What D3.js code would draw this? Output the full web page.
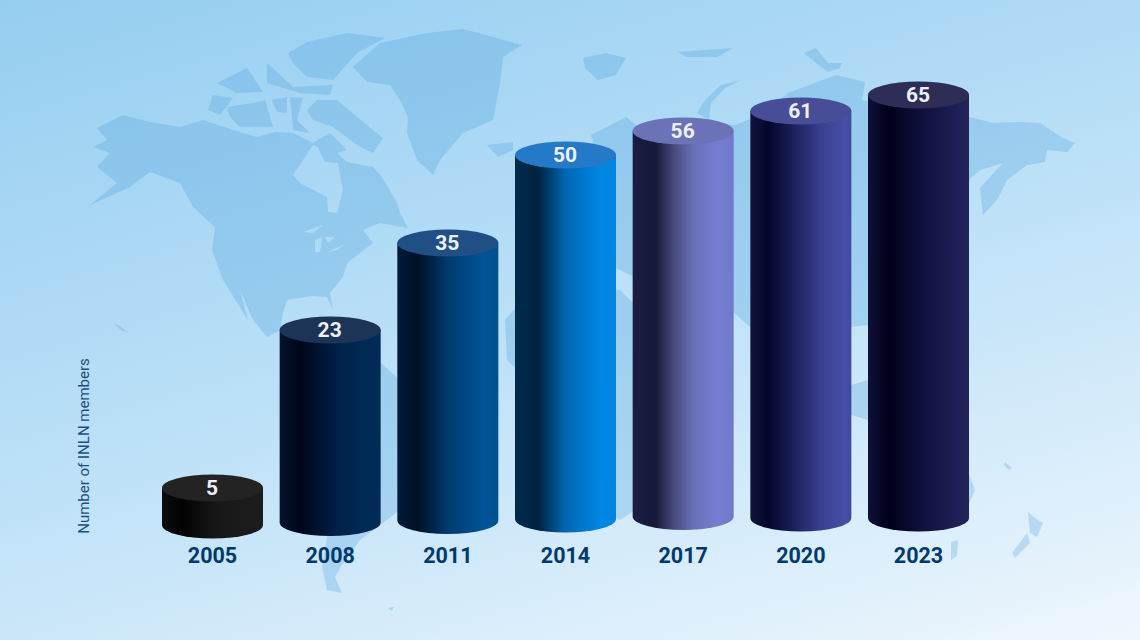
<!DOCTYPE html>
<html><head><meta charset="utf-8">
<script src="https://cdn.jsdelivr.net/npm/d3@7/dist/d3.min.js"></script>
<style>html,body{margin:0;padding:0;background:#fff}svg{display:block}</style>
</head><body><svg id="c" width="1140" height="640"></svg>
<script>
const years = ["2005","2008","2011","2014","2017","2020","2023"];
const members = [5,23,35,50,56,61,65];
const axisTitle = "Number of INLN members";
const topColors = ["#232323","#1b3457","#1f4f85","#2479c8","#6c72b8","#474d96","#2d2d58"];
const sideStops = [
 [[0,"#0c0c0c"],[0.2,"#020202"],[0.55,"#181818"],[1,"#1c1c1c"]],
 [[0,"#04142c"],[0.2,"#00051a"],[0.6,"#00234a"],[1,"#002c58"]],
 [[0,"#001c3a"],[0.2,"#000f25"],[0.5,"#003a6e"],[0.85,"#005497"],[1,"#00508e"]],
 [[0,"#002b4c"],[0.23,"#00223f"],[0.5,"#0067b2"],[0.85,"#0088e6"],[1,"#0084dc"]],
 [[0,"#1a1c42"],[0.23,"#17193a"],[0.4,"#454879"],[0.6,"#6a70b8"],[0.85,"#767ed2"],[1,"#7078cc"]],
 [[0,"#12143c"],[0.18,"#03062a"],[0.4,"#1a1d55"],[0.7,"#39408f"],[0.95,"#4750a8"],[1,"#40489a"]],
 [[0,"#10103a"],[0.2,"#000018"],[0.55,"#10113f"],[0.9,"#1f2058"],[1,"#222358"]]
];
// World map backdrop, traced outline by outline
const landOutlines = [
 [[97,128],[123,115],[150,122],[180,127],[203,120],[233,130],[257,137],[275,132],[293,133],[313,143],[330,133],[347,150],[337,153],[347,162],[373,167],[382,177],[397,203],[400,213],[408,228],[380,223],[363,230],[373,243],[347,263],[343,277],[330,293],[333,310],[327,297],[312,296],[287,300],[283,313],[280,330],[267,337],[253,320],[240,290],[248,320],[223,280],[212,250],[215,227],[193,207],[180,183],[150,172],[130,187],[90,205],[117,183],[97,167],[110,153],[93,147],[107,140]],
 [[313,145],[293,175],[300,183],[327,197],[328,212],[337,213],[343,190],[338,163],[325,162],[318,147]],
 [[303,232],[323,225],[313,233]],
 [[315,240],[322,237],[320,252],[315,252]],
 [[325,237],[335,237],[328,243]],
 [[328,252],[345,244],[337,250]],
 [[353,67],[380,43],[427,33],[463,29],[493,37],[522,45],[503,57],[500,83],[493,120],[463,133],[440,160],[433,175],[417,160],[407,133],[408,117],[400,100],[390,85],[367,82]],
 [[288,53],[307,42],[347,33],[385,38],[357,53],[333,80],[307,77],[293,63]],
 [[307,110],[317,100],[337,100],[357,117],[383,138],[373,153],[360,147],[333,127],[313,120]],
 [[227,107],[253,103],[265,100],[273,127],[240,127],[230,117]],
 [[208,110],[213,95],[233,98],[220,115]],
 [[217,83],[247,68],[263,92],[237,93]],
 [[267,63],[293,87],[333,85],[330,95],[300,93],[267,83]],
 [[272,100],[287,97],[287,113],[277,112]],
 [[290,97],[303,98],[297,120],[310,133],[293,130]],
 [[487,145],[513,142],[513,150],[498,157]],
 [[583,58],[606,53],[626,58],[616,75],[598,80],[585,68]],
 [[741,80],[721,85],[705,100],[697,113],[709,120],[711,103],[725,88]],
 [[678,52],[733,48],[717,57],[686,57]],
 [[804,53],[816,48],[828,63],[842,63],[840,68],[828,72],[816,63]],
 [[591,135],[626,117],[640,128],[660,135],[697,130],[712,124],[735,125],[760,115],[788,93],[836,75],[865,82],[862,100],[900,108],[970,117],[993,123],[1020,122],[1040,123],[1063,138],[1075,143],[1067,152],[1047,150],[1045,162],[1027,165],[1007,180],[997,200],[983,215],[980,188],[1003,163],[980,170],[970,179],[960,220],[920,300],[900,320],[868,325],[851,327],[800,360],[750,327],[733,312],[700,300],[670,330],[640,280],[600,260],[560,245],[530,270],[516,262],[545,215],[590,195],[600,165]],
 [[505,320],[540,280],[620,290],[660,330],[700,370],[670,420],[650,500],[620,520],[600,510],[580,430],[540,390],[507,360]],
 [[851,385],[868,380],[868,420],[851,415]],
 [[345,355],[380,362],[400,380],[440,420],[430,470],[400,510],[360,540],[342,565],[335,577],[342,593],[327,590],[322,567],[327,537],[310,470],[295,420],[300,380]],
 [[870,470],[910,440],[945,430],[960,450],[975,490],[960,525],[930,530],[880,510]],
 [[951,542],[958,540],[957,556],[951,560]],
 [[1028,512],[1035,518],[1043,523],[1037,537],[1030,533]],
 [[1027,533],[1030,543],[1015,558],[1012,553]],
 [[1005,462],[1012,468],[1009,470],[1004,465]],
 [[113,323],[120,326],[127,332],[122,331]],
 [[388,608],[394,607],[392,611]]
];

const svg = d3.select("#c");
const defs = svg.append("defs");
const bg = defs.append("linearGradient").attr("id","bg").attr("gradientUnits","userSpaceOnUse")
  .attr("x1",0).attr("y1",0).attr("x2",288).attr("y2",985);
[[0,"#96cef0"],[0.3,"#aedaf5"],[0.55,"#c6e5f9"],[0.82,"#e4f2fc"],[0.96,"#f6fbfe"]].forEach(s=>bg.append("stop").attr("offset",s[0]).attr("stop-color",s[1]));
svg.append("rect").attr("width",1140).attr("height",640).attr("fill","url(#bg)");

const outline = d3.line().curve(d3.curveLinearClosed);
svg.append("path").attr("fill","#3f97d8").attr("fill-opacity",0.25).attr("fill-rule","evenodd")
  .attr("d",landOutlines.map(d=>outline(d)).join(""));

const x = d3.scaleBand().domain(years).range([162,969]).paddingInner(0.1417).paddingOuter(0);
// The source chart's column heights are not proportional, so the scales are piecewise.
const y = d3.scaleLinear().domain(members).range([488,330,243,155,131,111,95]);
const base = d3.scaleLinear().domain(years.map(Number)).range([525,522.5,520.5,519,516.5,518,518]);
const ry = 13.5;

years.forEach((yr,i)=>{
  const g = defs.append("linearGradient").attr("id","side"+i);
  sideStops[i].forEach(s=>g.append("stop").attr("offset",s[0]).attr("stop-color",s[1]));
});

const bars = svg.append("g").selectAll("g").data(years.map((yr,i)=>({yr,v:members[i],i}))).join("g");
bars.append("path").attr("fill",d=>`url(#side${d.i})`).attr("d",d=>{
  const l=x(d.yr), w=x.bandwidth(), rx=w/2, t=y(d.v), b=base(+d.yr);
  return `M${l},${t}L${l},${b}A${rx},${ry} 0 0 0 ${l+w},${b}L${l+w},${t}Z`;
});
bars.append("ellipse").attr("cx",d=>x(d.yr)+x.bandwidth()/2).attr("cy",d=>y(d.v))
  .attr("rx",x.bandwidth()/2).attr("ry",ry).attr("fill",d=>topColors[d.i]);
bars.append("text").attr("x",d=>x(d.yr)+x.bandwidth()/2-0.5).attr("y",d=>y(d.v)+7)
  .attr("text-anchor","middle").attr("font-family","Roboto").attr("font-weight",700)
  .attr("font-size",21).attr("fill","#eff0f6").text(d=>d.v);

const ax = svg.append("g").attr("transform","translate(0,548)")
  .call(d3.axisBottom(x).tickSize(0).tickPadding(0));
ax.select(".domain").remove();
ax.selectAll("text").attr("font-family","Roboto").attr("font-weight",700).attr("font-size",21.5)
  .attr("fill","#003a6c").attr("dy","15");

svg.append("text").attr("transform","translate(89,446) rotate(-90)").attr("text-anchor","middle")
  .attr("font-family","Roboto").attr("font-size",15).attr("fill","#1a5080").text(axisTitle);
</script></body></html>
